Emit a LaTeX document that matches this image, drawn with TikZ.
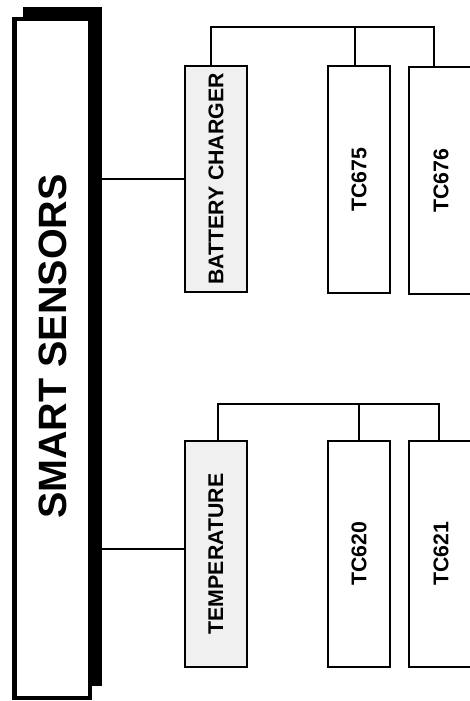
\documentclass[tikz,border=0pt]{standalone}
\usepackage{fontspec}
\setmainfont{Liberation Sans}
\usetikzlibrary{calc}
\tikzset{
  leaf/.style={draw, line width=2pt, minimum width=62pt, minimum height=226pt, inner sep=0pt, font=\bfseries\fontsize{21.3}{23}\selectfont},
  catbox/.style={leaf, fill=gray!12},
  conn/.style={line width=1.6pt},
}
\begin{document}
\begin{tikzpicture}[x=1pt,y=-1pt]
\useasboundingbox (0,0) rectangle (470,701);
% main box with shadow
\node[fill=black, minimum width=79pt, minimum height=679pt, inner sep=0pt] (shadow) at (62.5,346.5) {};
\node[draw, fill=white, line width=4.5pt, minimum width=75.5pt, minimum height=678.5pt, inner sep=0pt] (front) at (52,358.5) {};
\node[font=\bfseries\fontsize{39.5}{41}\selectfont, inner sep=0pt] (title) at (53,346.5) {\rotatebox{90}{SMART SENSORS}};
% battery group
\node[catbox] (bat) at (216,179) {\rotatebox{90}{BATTERY CHARGER}};
\node[leaf] (tc675) at (359,179.5) {\rotatebox{90}{TC675}};
\node[leaf, minimum width=64pt] (tc676) at (441,180.5) {\rotatebox{90}{TC676}};
% temperature group
\node[catbox] (temp) at (216,554) {\rotatebox{90}{TEMPERATURE}};
\node[leaf] (tc620) at (359,553.5) {\rotatebox{90}{TC620}};
\node[leaf, minimum width=64pt] (tc621) at (441,554) {\rotatebox{90}{TC621}};
% connectors from main box
\draw[conn] (shadow.east |- bat.west) -- (bat.west);
\draw[conn] ($(shadow.east |- temp.west)+(0,-5)$) -- ($(temp.west)+(0,-5)$);
% battery bracket
\coordinate (b1) at (211,27);
\coordinate (b2) at (355,27);
\coordinate (b3) at (434,27);
\draw[conn] (bat.north -| b1) -- (b1) -- (b3) -- (tc676.north -| b3);
\draw[conn] (b2) -- (tc675.north -| b2);
% temperature bracket
\coordinate (t1) at (218,404);
\coordinate (t2) at (359,404);
\coordinate (t3) at (439,404);
\draw[conn] (temp.north -| t1) -- (t1) -- (t3) -- (tc621.north -| t3);
\draw[conn] (t2) -- (tc620.north -| t2);
\end{tikzpicture}
\end{document}
